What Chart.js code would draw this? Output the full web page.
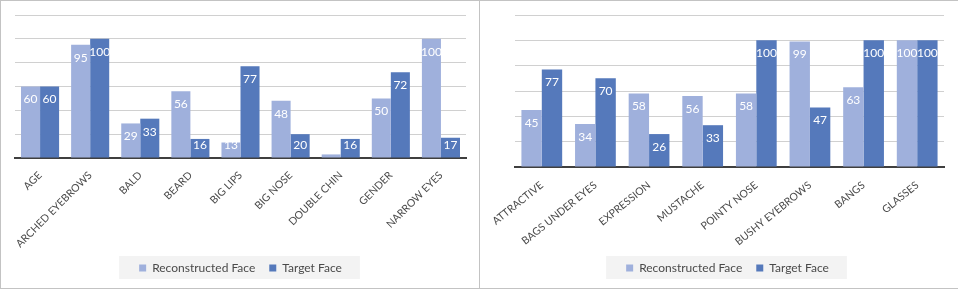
<!DOCTYPE html>
<html>
<head>
<meta charset="utf-8">
<script src="https://cdn.jsdelivr.net/npm/chart.js@4.4.0/dist/chart.umd.min.js"></script>
<style>
  body { margin: 0; background: #fff; }
  #wrap {
    position: relative; width: 958px; height: 289px; box-sizing: border-box;
    border-top: 1px solid #c3c3c3; border-left: 1px solid #c3c3c3; border-bottom: 1px solid #c3c3c3;
  }
  .panel { position: absolute; top: 0; width: 478px; height: 287px; }
  #p1 { left: 0; }
  #p2 { left: 478px; border-left: 1px solid #c3c3c3; }
</style>
</head>
<body>
<div id="wrap">
  <div class="panel" id="p1"><canvas id="c1" width="478" height="287"></canvas></div>
  <div class="panel" id="p2"><canvas id="c2" width="478" height="287"></canvas></div>
</div>
<script>
// left chart
const leftCategories = ["AGE", "ARCHED EYEBROWS", "BALD", "BEARD", "BIG LIPS", "BIG NOSE", "DOUBLE CHIN", "GENDER", "NARROW EYES"];
const leftReconstructed = [60, 95, 29, 56, 13, 48, 3, 50, 100];
const leftTarget = [60, 100, 33, 16, 77, 20, 16, 72, 17];

// right chart
const rightCategories = ["ATTRACTIVE", "BAGS UNDER EYES", "EXPRESSION", "MUSTACHE", "POINTY NOSE", "BUSHY EYEBROWS", "BANGS", "GLASSES"];
const rightReconstructed = [45, 34, 58, 56, 58, 99, 63, 100];
const rightTarget = [77, 70, 26, 33, 100, 47, 100, 100];

const seriesNames = ["Reconstructed Face", "Target Face"];
const yMax = 120;
const yStep = 20;

const LIGHT = "#9fb0dc";
const DARK = "#5579bb";
const TEXT = "#4a4a4a";

Chart.defaults.font.family = "Lato, 'Open Sans', sans-serif";
Chart.defaults.color = TEXT;

// white value labels at the inside end of each bar
const barLabels = {
  id: "barLabels",
  afterDatasetsDraw(chart) {
    const ctx = chart.ctx;
    ctx.save();
    ctx.font = "12px Lato";
    ctx.fillStyle = "#fff";
    ctx.textAlign = "center";
    ctx.textBaseline = "middle";
    chart.data.datasets.forEach((ds, i) => {
      chart.getDatasetMeta(i).data.forEach((bar, j) => {
        const y = Math.min(bar.y + 13, bar.base - 12);
        ctx.fillText(ds.data[j], bar.x, y);
      });
    });
    ctx.restore();
  },
};

// grey box behind the legend
const legendBg = {
  id: "legendBg",
  beforeDraw(chart) {
    const boxes = chart.legend.legendHitBoxes;
    if (!boxes || !boxes.length) return;
    const l = Math.min(...boxes.map((b) => b.left)) - 20;
    const r = Math.max(...boxes.map((b) => b.left + b.width)) + 18;
    const mid = boxes[0].top + boxes[0].height / 2;
    const ctx = chart.ctx;
    ctx.save();
    ctx.fillStyle = "#f3f3f3";
    ctx.fillRect(l, mid - 12, r - l, 23);
    ctx.restore();
  },
};

function makeChart(id, categories, recon, target, pad, axisHeight, rot, tickPad) {
  new Chart(document.getElementById(id), {
    type: "bar",
    data: {
      labels: categories,
      datasets: [
        { label: seriesNames[0], data: recon, backgroundColor: LIGHT },
        { label: seriesNames[1], data: target, backgroundColor: DARK },
      ],
    },
    options: {
      responsive: false,
      animation: false,
      layout: { padding: pad },
      datasets: { bar: { categoryPercentage: 0.76, barPercentage: 1 } },
      plugins: {
        tooltip: { enabled: false },
        legend: {
          position: "bottom",
          labels: {
            boxWidth: 7,
            boxHeight: 7,
            padding: 14,
            color: TEXT,
            font: { size: 12 },
          },
        },
      },
      scales: {
        x: {
          grid: { display: false, drawTicks: false },
          border: { display: true, color: "#3f3f3f", width: 2 },
          ticks: {
            autoSkip: false,
            minRotation: rot,
            maxRotation: rot,
            padding: tickPad,
            color: TEXT,
            font: { size: 10.5 },
          },
          afterFit(scale) { scale.height = axisHeight; },
        },
        y: {
          min: 0,
          max: yMax,
          ticks: { display: false, stepSize: yStep },
          grid: { color: "#d0d0d0", drawTicks: false },
          border: { display: false },
        },
      },
    },
    plugins: [legendBg, barLabels],
  });
}

makeChart("c1", leftCategories, leftReconstructed, leftTarget, { left: 14, right: 13, top: 14, bottom: 4 }, 90, 45, 11);
makeChart("c2", rightCategories, rightReconstructed, rightTarget, { left: 31, right: 14, top: 14, bottom: 4 }, 81, 39, 12);
</script>
</body>
</html>
